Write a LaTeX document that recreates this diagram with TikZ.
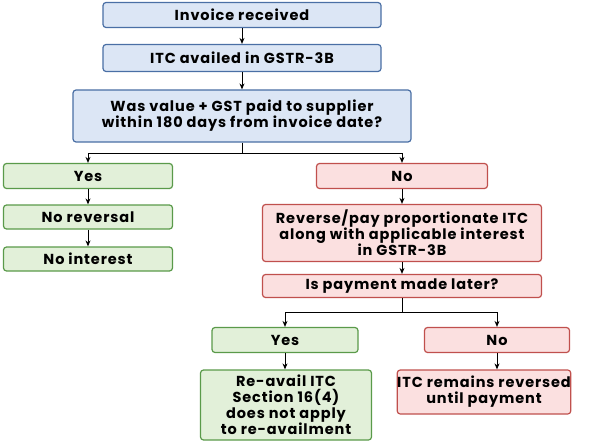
\documentclass[tikz,border=0pt]{standalone}
\usepackage{fontspec}
\setmainfont{Poppins}[LetterSpace=6]
\usetikzlibrary{arrows.meta}
\definecolor{bfill}{HTML}{DCE6F5}\definecolor{bline}{HTML}{4A6FA5}
\definecolor{gfill}{HTML}{E2F0D9}\definecolor{gline}{HTML}{5A9A4A}
\definecolor{rfill}{HTML}{FBE0E0}\definecolor{rline}{HTML}{C0504D}
\begin{document}
\begin{tikzpicture}[x=1pt,y=-1pt,
  box/.style={draw,line width=1.2pt,rounded corners=3pt,align=center,inner sep=0pt,
    font=\fontsize{14.5}{16}\selectfont\bfseries},
  bb/.style={box,fill=bfill,draw=bline},
  gb/.style={box,fill=gfill,draw=gline},
  rb/.style={box,fill=rfill,draw=rline},
  arr/.style={-{Stealth[length=6pt,width=5pt]},line width=1pt}]
\useasboundingbox (0,0) rectangle (600,444);
\node[bb,minimum width=278,minimum height=25] (a) at (242,15) {Invoice received};
\node[bb,minimum width=278,minimum height=27] (b) at (242,58) {ITC availed in GSTR-3B};
\node[bb,minimum width=338,minimum height=52] (c) at (242,116) {Was value + GST paid to supplier\\within 180 days from invoice date?};
\node[gb,minimum width=169,minimum height=25] (y1) at (88,176) {Yes};
\node[gb,minimum width=169,minimum height=24] (nr) at (88,217) {No reversal};
\node[gb,minimum width=169,minimum height=24] (ni) at (88,259) {No interest};
\node[rb,minimum width=171,minimum height=25] (n1) at (402,176) {No};
\node[rb,minimum width=279,minimum height=57] (rv) at (402,233) {Reverse/pay proportionate ITC\\along with applicable interest\\in GSTR-3B};
\node[rb,minimum width=279,minimum height=23] (pl) at (402,286) {Is payment made later?};
\node[gb,minimum width=146,minimum height=25] (y2) at (285,340) {Yes};
\node[rb,minimum width=145,minimum height=25] (n2) at (497,340) {No};
\node[gb,minimum width=171,minimum height=70] (ra) at (286,405) {Re-avail ITC\\Section 16(4)\\does not apply\\to re-availment};
\node[rb,minimum width=172,minimum height=44] (rr) at (484,392) {ITC remains reversed\\until payment};
\coordinate (j1) at (242,153);
\coordinate (j2) at (402,312);
\draw[arr] (a) -- (b);
\draw[arr] (b) -- (c);
\draw[line width=1pt] (c) -- (j1);
\draw[arr] (j1) -| (y1);
\draw[arr] (j1) -| (n1);
\draw[arr] (y1) -- (nr);
\draw[arr] (nr) -- (ni);
\draw[arr] (n1) -- (rv);
\draw[arr] (rv) -- (pl);
\draw[line width=1pt] (pl) -- (j2);
\draw[arr] (j2) -| (y2);
\draw[arr] (j2) -| (n2);
\draw[arr] (y2.south) -- (y2.south |- ra.north);
\draw[arr] (n2.south) -- (n2.south |- rr.north);
\end{tikzpicture}
\end{document}
